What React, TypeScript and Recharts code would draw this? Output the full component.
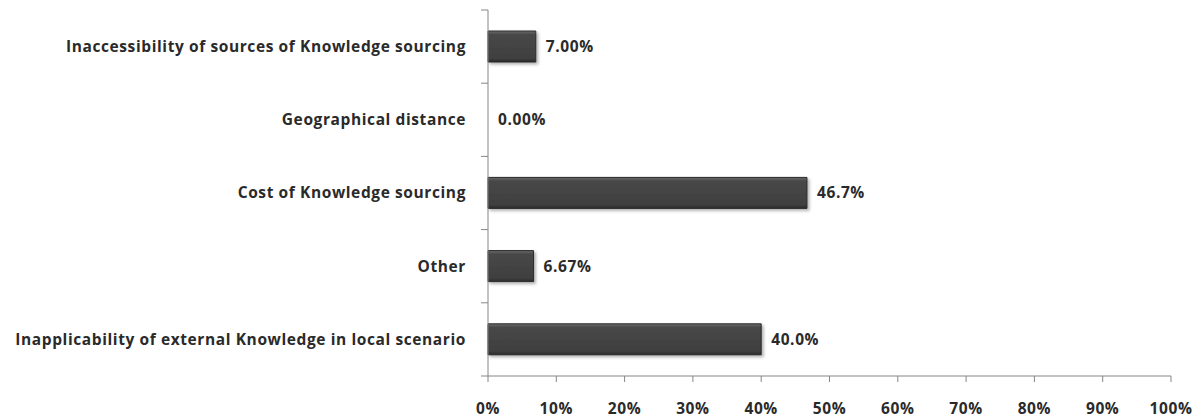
import React from 'react';
import { BarChart, Bar, XAxis, YAxis, LabelList, Cell } from 'recharts';

const categories = [
  'Inaccessibility of sources of Knowledge sourcing',
  'Geographical distance',
  'Cost of Knowledge sourcing',
  'Other',
  'Inapplicability of external Knowledge in local scenario',
];
const values = [7.0, 0.0, 46.7, 6.67, 40.0];
const xTicks = [0, 10, 20, 30, 40, 50, 60, 70, 80, 90, 100];

const data = categories.map((name, i) => ({ name, value: values[i] }));

const FONT = '"Open Sans", "Noto Sans", sans-serif';
const AXIS = '#868686';
const TEXT = '#2a2a2a';
const TICK_MARGIN = 22;
const textStyle = { fill: TEXT, fontSize: 15.5, fontWeight: 700, fontFamily: FONT, letterSpacing: 0.6 };

// category tick: label at band centre, tick marks on band boundaries (Excel style)
function CatTick(props: any) {
  const { x, y, payload, index, visibleTicksCount } = props;
  const half = payload?.offset ?? 0;
  const axisX = x + TICK_MARGIN;
  const last = index === (visibleTicksCount ?? categories.length) - 1;
  return (
    <g>
      <line x1={axisX - 7} x2={axisX} y1={y - half} y2={y - half} stroke={AXIS} />
      {last && <line x1={axisX - 7} x2={axisX} y1={y + half} y2={y + half} stroke={AXIS} />}
      <text x={x} y={y} dy="0.35em" textAnchor="end" style={textStyle}>
        {payload.value}
      </text>
    </g>
  );
}

export default function App() {
  return (
    <div style={{ position: 'absolute', left: 0, top: 0, width: 1201, height: 419, background: '#fff' }}>
      <BarChart
        width={1201}
        height={419}
        data={data}
        layout="vertical"
        margin={{ top: 10, right: 30, bottom: 0, left: 0 }}
        barSize={31}
      >
        <defs>
          <linearGradient id="bevel" x1="0" y1="0" x2="0" y2="1">
            <stop offset="0%" stopColor="#6b6b6b" />
            <stop offset="12%" stopColor="#474747" />
            <stop offset="88%" stopColor="#404040" />
            <stop offset="100%" stopColor="#2a2a2a" />
          </linearGradient>
          <filter id="shadow" x="-5%" y="-20%" width="120%" height="160%">
            <feDropShadow dx="2" dy="2" stdDeviation="1.5" floodColor="#000" floodOpacity="0.3" />
          </filter>
        </defs>
        <YAxis
          type="category"
          dataKey="name"
          width={488}
          axisLine={{ stroke: AXIS }}
          tickLine={false}
          tickSize={0}
          tickMargin={TICK_MARGIN}
          interval={0}
          tick={<CatTick />}
        />
        <XAxis
          type="number"
          domain={[0, 100]}
          ticks={xTicks}
          tickFormatter={(v: number) => `${v}%`}
          height={43}
          tickSize={6}
          tickMargin={21}
          stroke={AXIS}
          tick={textStyle}
        />
        <Bar
          dataKey="value"
          fill="url(#bevel)"
          stroke="#2b2b2b"
          strokeWidth={1}
          minPointSize={0.01}
          filter="url(#shadow)"
          isAnimationActive={false}
        >
          {values.map((v, i) => (
            <Cell key={i} stroke={v === 0 ? 'none' : '#2b2b2b'} />
          ))}
          <LabelList
            dataKey="value"
            position="right"
            offset={10}
            formatter={(v: number) => `${Number(v).toPrecision(3)}%`}
            style={textStyle}
          />
        </Bar>
      </BarChart>
    </div>
  );
}
